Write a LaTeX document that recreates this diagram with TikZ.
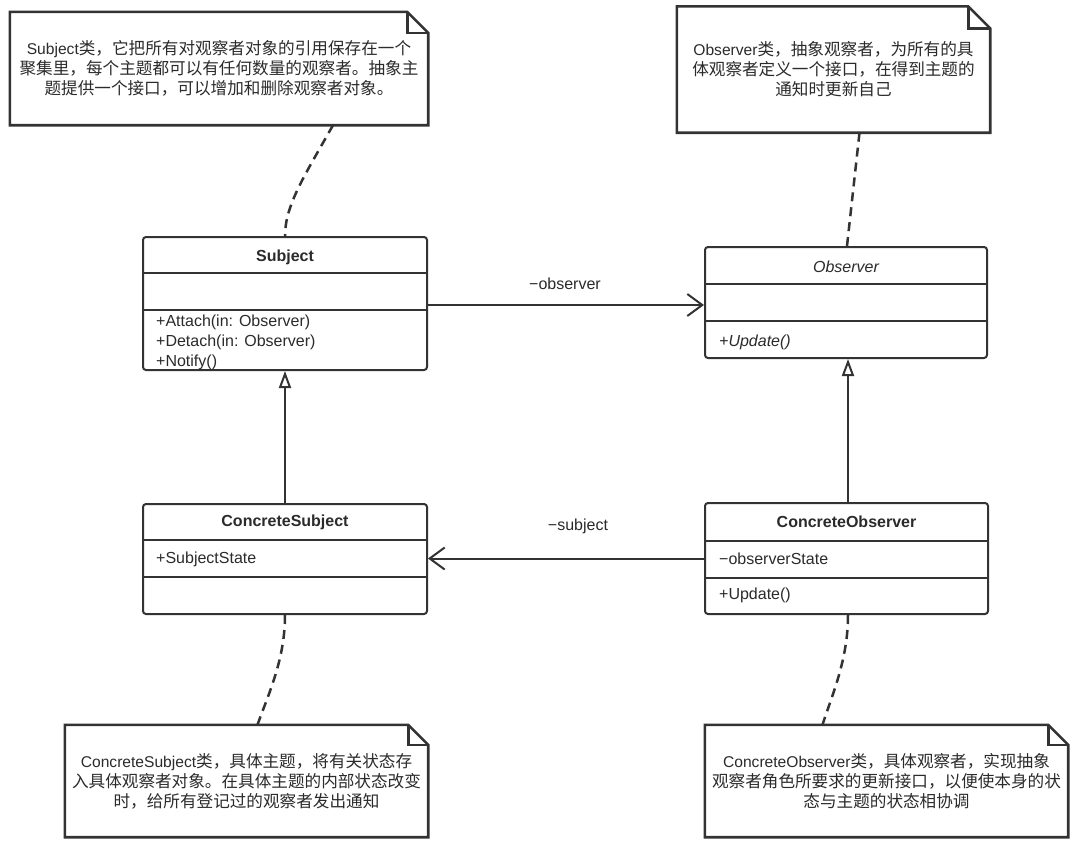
\documentclass[tikz,border=0pt]{standalone}
\usepackage{fontspec}
\setmainfont{Liberation Sans}
\newfontfamily\cjk[Scale=1.065]{Noto Sans CJK SC}
\usetikzlibrary{arrows.meta,calc}
\definecolor{linec}{HTML}{333333}
\definecolor{txt}{HTML}{2B2B2B}
\tikzset{
  notebox/.style={inner sep=0pt, align=center, text=txt,
    font=\fontsize{15.6}{20}\selectfont},
  noteline/.style={draw=linec, line width=2.6pt, line join=miter},
  classbox/.style={draw=linec, line width=2pt, rounded corners=3pt, inner sep=0pt},
  divider/.style={draw=linec, line width=2pt},
  ctitle/.style={inner sep=0pt, text=txt, font=\bfseries\fontsize{16}{19}\selectfont},
  member/.style={inner sep=0pt, anchor=west, text=txt, font=\fontsize{16}{19}\selectfont},
  dashline/.style={draw=linec, line width=2.5pt, dash pattern=on 9pt off 6pt},
  assoc/.style={draw=linec, line width=2pt, -{Straight Barb[length=15pt,width=22pt]}},
  inherit/.style={draw=linec, line width=2pt, -{Triangle[open,length=17pt,width=12pt]}},
  lbl/.style={inner sep=0pt, text=txt, font=\fontsize{16}{19}\selectfont}
}
\begin{document}
\begin{tikzpicture}[x=1pt,y=-1pt]
\fill[white] (0,0) rectangle (1080,857);
\useasboundingbox (0,0) rectangle (1080,857);

% ---------- notes ----------
\node[notebox, minimum width=418pt, minimum height=113pt] (n1) at (219,68.5)
 {Subject{\cjk 类，它把所有对观察者对象的引用保存在一个}\\
  {\cjk 聚集里，每个主题都可以有任何数量的观察者。抽象主}\\
  {\cjk 题提供一个接口，可以增加和删除观察者对象。}};
\node[notebox, minimum width=313pt, minimum height=126pt] (n2) at (833.5,69.5)
 {Observer{\cjk 类，抽象观察者，为所有的具}\\
  {\cjk 体观察者定义一个接口，在得到主题的}\\
  {\cjk 通知时更新自己}};
\node[notebox, minimum width=363pt, minimum height=112pt] (n3) at (246.5,781)
 {ConcreteSubject{\cjk 类，具体主题，将有关状态存}\\
  {\cjk 入具体观察者对象。在具体主题的内部状态改变}\\
  {\cjk 时，给所有登记过的观察者发出通知}};
\node[notebox, minimum width=363pt, minimum height=112pt] (n4) at (886.5,781)
 {ConcreteObserver{\cjk 类，具体观察者，实现抽象}\\
  {\cjk 观察者角色所要求的更新接口，以便使本身的状}\\
  {\cjk 态与主题的状态相协调}};
\foreach \n/\f in {n1/21,n2/22,n3/20,n4/20}{
  \draw[noteline] (\n.north west) -- ([xshift=-\f pt]\n.north east)
    -- ([yshift=-\f pt]\n.north east) -- (\n.south east) -- (\n.south west) -- cycle;
  \draw[noteline] ([xshift=-\f pt]\n.north east) |- ([yshift=-\f pt]\n.north east);
}

% ---------- classes ----------
% Subject
\node[classbox, minimum width=284pt, minimum height=133pt] (S) at (285,303.5) {};
\node[ctitle] (St) at (285,257) {Subject};
\draw[divider] (S.west |- 0,273) -- (S.east |- 0,273);
\draw[divider] (S.west |- 0,310) -- (S.east |- 0,310);
\node[member] (Sm1) at (156,322) {+Attach(in: Observer)};
\node[member] (Sm2) at (156,342) {+Detach(in: Observer)};
\node[member] (Sm3) at (156,362) {+Notify()};

% Observer
\node[classbox, minimum width=282pt, minimum height=111pt] (O) at (846,302.5) {};
\node[ctitle, font=\itshape\fontsize{16}{19}\selectfont] (Ot) at (846,267) {Observer};
\draw[divider] (O.west |- 0,284) -- (O.east |- 0,284);
\draw[divider] (O.west |- 0,321) -- (O.east |- 0,321);
\node[member, font=\itshape\fontsize{16}{19}\selectfont] (Om1) at (719,342) {+Update()};

% ConcreteSubject
\node[classbox, minimum width=284pt, minimum height=110pt] (CS) at (285,559) {};
\node[ctitle] (CSt) at (285,522) {ConcreteSubject};
\draw[divider] (CS.west |- 0,540) -- (CS.east |- 0,540);
\draw[divider] (CS.west |- 0,577) -- (CS.east |- 0,577);
\node[member] (CSa1) at (156,559) {+SubjectState};

% ConcreteObserver
\node[classbox, minimum width=283pt, minimum height=111pt] (CO) at (846.5,558.5) {};
\node[ctitle] (COt) at (846.5,522) {ConcreteObserver};
\draw[divider] (CO.west |- 0,541) -- (CO.east |- 0,541);
\draw[divider] (CO.west |- 0,578) -- (CO.east |- 0,578);
\node[member] (COa1) at (719,559) {−observerState};
\node[member] (COm1) at (719,595) {+Update()};

% ---------- relations ----------
\draw[assoc] ([yshift=-1.5pt]S.east) -- ([yshift=-1.5pt]S.east -| O.west);
\node[lbl] (l1) at (565,284) {−observer};
\draw[assoc] (CO.west) -- (CO.west -| CS.east);
\node[lbl] (l2) at (578,526) {−subject};

\draw[inherit] (CS.north) -- (S.south);
\draw[inherit] ([xshift=1.5pt]CO.north) -- ([xshift=1.5pt]CO.north |- O.south);

% ---------- note links ----------
\draw[dashline] ([xshift=114pt]n1.south) .. controls (305,175) and (285,205) .. (S.north);
\draw[dashline] ([xshift=26pt]n2.south) -- ([xshift=1pt]O.north);
\draw[dashline] (CS.south) .. controls (285,660) and (268,695) .. ([xshift=11pt]n3.north);
\draw[dashline] ([xshift=1.5pt]CO.south) .. controls (848,660) and (832,695) .. ([xshift=-64pt]n4.north);
\end{tikzpicture}
\end{document}
